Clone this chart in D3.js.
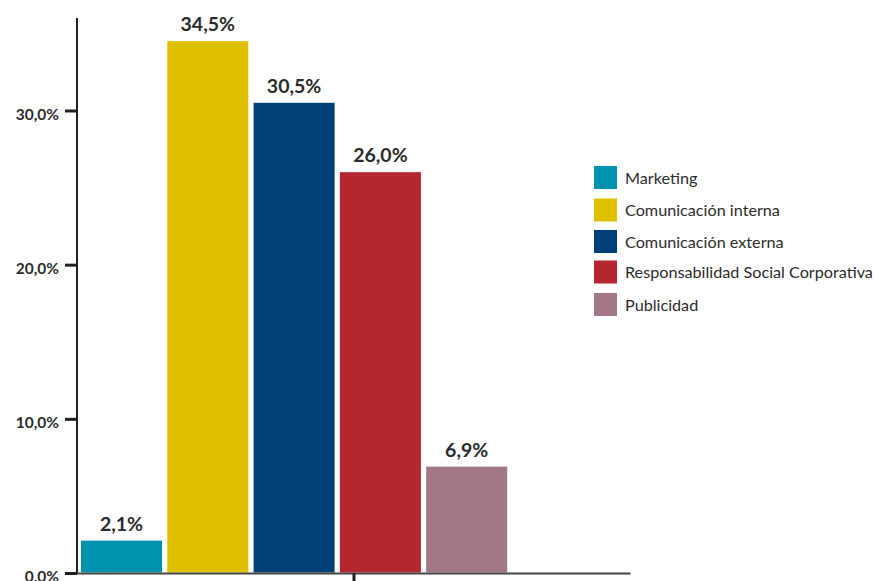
<!DOCTYPE html>
<html>
<head>
<meta charset="utf-8">
<script src="https://cdn.jsdelivr.net/npm/d3@7/dist/d3.min.js"></script>
<style>
  html, body { margin: 0; padding: 0; background: #fff; }
  svg { display: block; }
  text { font-family: Lato, "Open Sans", sans-serif; fill: #2b2b2b; }
</style>
</head>
<body>
<svg id="chart" width="883" height="581"></svg>
<script>
// Survey results: share of responses by area
const categories = ["Marketing", "Comunicación interna", "Comunicación externa", "Responsabilidad Social Corporativa", "Publicidad"];
const values = [2.1, 34.5, 30.5, 26.0, 6.9];
const colors = ["#0093b0", "#e0c100", "#003f78", "#b5272f", "#a37688"];
const yTicks = [0, 10, 20, 30];

const fmt = v => d3.format(".1f")(v).replace(".", ",") + "%";

const svg = d3.select("#chart");

const axisX0 = 77, axisX1 = 630;
const y = d3.scaleLinear().domain([0, 36]).range([573, 18]);
const x = d3.scaleBand().domain(categories).range([81, 507.2]).paddingInner(0.061).paddingOuter(0);

// Bars
svg.append("g").selectAll("rect")
  .data(values)
  .join("rect")
  .attr("x", (d, i) => x(categories[i]))
  .attr("y", d => y(d))
  .attr("width", x.bandwidth())
  .attr("height", d => y(0) - y(d) - 0.5)
  .attr("fill", (d, i) => colors[i]);

// Value labels
svg.append("g").selectAll("text")
  .data(values)
  .join("text")
  .attr("x", (d, i) => x(categories[i]) + x.bandwidth() / 2)
  .attr("y", d => y(d) - 10)
  .attr("text-anchor", "middle")
  .attr("font-size", 19.5)
  .attr("font-weight", 700)
  .text(d => fmt(d));

// Y axis
const yAxis = d3.axisLeft(y).tickValues(yTicks).tickFormat(fmt).tickSize(12).tickPadding(6);
const gy = svg.append("g").attr("transform", `translate(${axisX0},0)`).call(yAxis);
gy.select(".domain").remove();
gy.selectAll(".tick line").attr("stroke", "#231f20").attr("stroke-width", 3);
gy.selectAll(".tick text")
  .attr("font-family", "Lato, sans-serif")
  .attr("font-size", 15.5)
  .attr("font-weight", 700)
  .attr("dy", "0.55em")
  .attr("fill", "#2b2b2b");
svg.append("line")
  .attr("x1", axisX0).attr("x2", axisX0)
  .attr("y1", y(36)).attr("y2", y(0) + 1)
  .attr("stroke", "#231f20").attr("stroke-width", 2);

// X axis: single centred tick
const xAxisScale = d3.scalePoint().domain([""]).range([axisX0, axisX1]).padding(0.5);
const gx = svg.append("g").attr("transform", `translate(0,${y(0)})`)
  .call(d3.axisBottom(xAxisScale).tickSize(9).tickSizeOuter(0));
gx.select(".domain").attr("stroke", "#444").attr("stroke-width", 2);
gx.selectAll(".tick line").attr("stroke", "#231f20").attr("stroke-width", 3);
gx.selectAll(".tick text").remove();

// Legend
const legend = svg.append("g").attr("transform", "translate(594,166)");
const rowY = [0, 32.5, 64, 94.5, 127];
const items = legend.selectAll("g")
  .data(categories)
  .join("g")
  .attr("transform", (d, i) => `translate(0,${rowY[i]})`);
items.append("rect")
  .attr("width", 23).attr("height", 23)
  .attr("fill", (d, i) => colors[i]);
items.append("text")
  .attr("x", 31).attr("y", 12)
  .attr("dy", "0.35em")
  .attr("font-size", 16.2)
  .attr("fill", "#333")
  .text(d => d);
</script>
</body>
</html>
